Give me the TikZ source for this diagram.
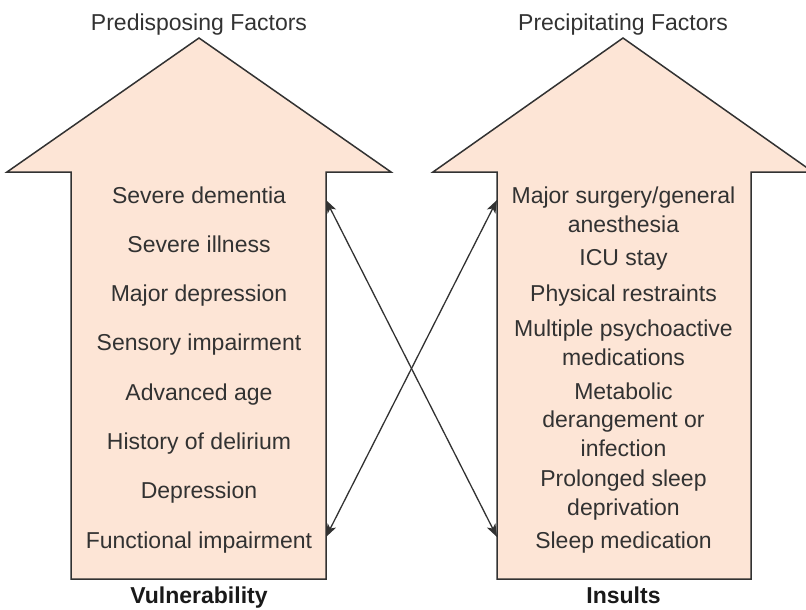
\documentclass[tikz,border=0pt]{standalone}
\usepackage{fontspec}
\setmainfont{Liberation Sans}
\usetikzlibrary{arrows.meta, positioning}
\definecolor{peach}{RGB}{253,229,214}
\definecolor{ink}{RGB}{50,50,50}

\begin{document}
\begin{tikzpicture}[x=1pt, y=-1pt, node distance=49.3pt]
        \tikzset{ bigarrow/.style={draw=ink, line width=1.5pt, fill=peach, line join=miter},
                factor/.style={font=\fontsize{23}{28.5}\selectfont, text=ink, align=center, anchor=base, inner sep=0pt},
                outcome/.style={factor, font=\fontsize{23}{28.5}\selectfont\bfseries, text=black!90},
                link/.style={{Stealth[length=13pt,width=9.5pt,inset=3.5pt]}-{Stealth[length=13pt,width=9.5pt,inset=3.5pt]}, line width=1.3pt, draw=ink}}
        \useasboundingbox (0,0) rectangle (806,610);
        \clip (0,0) rectangle (806,610);

        % Big arrows
        \draw[bigarrow] (71,579) -- (71,172) -- (7,172) -- (199,38) -- (391,172) -- (326,172) -- (326,579) -- cycle;
        \draw[bigarrow] (497,579) -- (497,172) -- (433,172) -- (623,38) -- (813,172) -- (751,172) -- (751,579) -- cycle;

        \node[factor] (predisp) at (199,31) {Predisposing Factors};
        \node[factor] (precip) at (623,31) {Precipitating Factors};

        % Left column
        \node[factor] (dementia) at (199,203) {Severe dementia};
        \node[below=of dementia.base, factor] (illness) {Severe illness};
        \node[below=of illness.base, factor] (majdep) {Major depression};
        \node[below=of majdep.base, factor] (sensory) {Sensory impairment};
        \node[below=of sensory.base, factor] (age) {Advanced age};
        \node[below=of age.base, factor] (delirium) {History of delirium};
        \node[below=of delirium.base, factor] (depression) {Depression};
        \node[below=of depression.base, factor] (functional) {Functional impairment};
        \node[outcome] (vuln) at (199,603) {Vulnerability};

        % Right column (base = last line)
        \node[factor] (surgery) at (623.5,232) {Major surgery/general\\anesthesia};
        \node[factor] (icu) at (623.5,265) {ICU stay};
        \node[factor] (restraints) at (623.5,301) {Physical restraints};
        \node[factor] (psycho) at (623.5,365) {Multiple psychoactive\\medications};
        \node[factor] (metabolic) at (623.5,456) {Metabolic\\derangement or\\infection};
        \node[factor] (sleepdep) at (623.5,515) {Prolonged sleep\\deprivation};
        \node[factor] (sleepmed) at (623.5,548) {Sleep medication};
        \node[outcome] (insults) at (623.5,603) {Insults};

        % Crossing links
        \coordinate (vulnHigh) at (326,200);
        \coordinate (vulnLow) at (326,537);
        \coordinate (insHigh) at (497,200);
        \coordinate (insLow) at (497,537);
        \draw[link] (vulnHigh) -- (insLow);
        \draw[link] (insHigh) -- (vulnLow);
\end{tikzpicture}
\end{document}
